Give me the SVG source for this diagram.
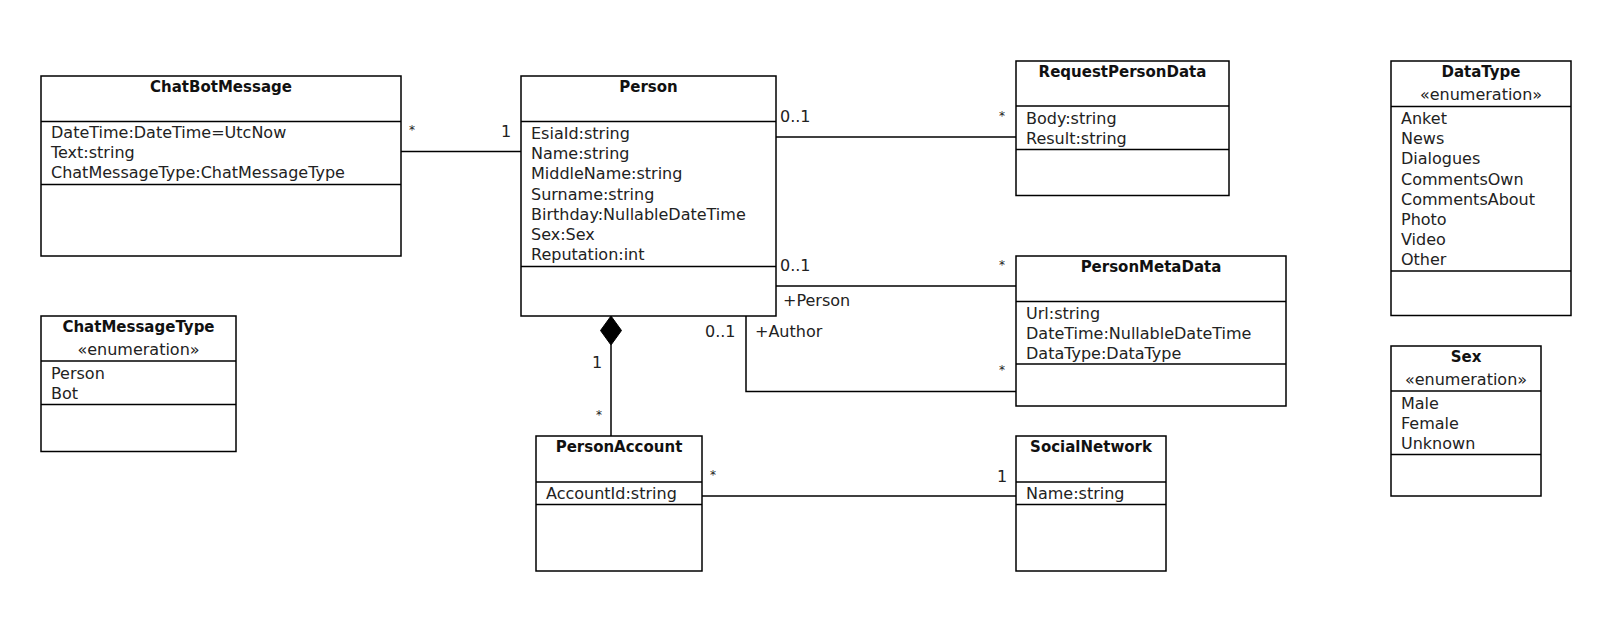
<svg xmlns="http://www.w3.org/2000/svg" width="1620" height="629" viewBox="0 0 1620 629">
<style>
.box{fill:#fff;stroke:#000;stroke-width:1.5}
.div{stroke:#000;stroke-width:1.5}
.t{font-family:"DejaVu Sans",sans-serif;font-size:15px;font-weight:bold;fill:#111;text-anchor:middle}
.s{font-family:"DejaVu Sans",sans-serif;font-size:16px;fill:#222;text-anchor:middle}
.a{font-family:"DejaVu Sans",sans-serif;font-size:16px;fill:#222}
.c{fill:none;stroke:#000;stroke-width:1.5}
.l{font-family:"DejaVu Sans",sans-serif;font-size:16px;fill:#222}
.st{font-family:"DejaVu Sans",sans-serif;font-size:12px;fill:#222}
</style>
<rect width="1620" height="629" fill="#fff"/>
<g id="connectors">
<line class="c" x1="401" y1="151.5" x2="521" y2="151.5"/>
<text class="st" x="409" y="134">*</text>
<text class="l" x="501" y="137">1</text>
<line class="c" x1="776" y1="137" x2="1016" y2="137"/>
<text class="l" x="780" y="122">0..1</text>
<text class="st" x="999" y="120">*</text>
<line class="c" x1="776" y1="286" x2="1016" y2="286"/>
<text class="l" x="780" y="271">0..1</text>
<text class="st" x="999" y="269">*</text>
<text class="l" x="783" y="306">+Person</text>
<polyline class="c" points="746,316 746,391.5 1016,391.5"/>
<text class="l" x="705" y="337">0..1</text>
<text class="l" x="755" y="337">+Author</text>
<text class="st" x="999" y="374">*</text>
<polygon points="611,316 621.5,330.5 611,345 600.5,330.5" fill="#000" stroke="#000" stroke-width="1"/>
<line class="c" x1="611" y1="345" x2="611" y2="436"/>
<text class="l" x="592" y="368">1</text>
<text class="st" x="596" y="419">*</text>
<line class="c" x1="702" y1="496" x2="1016" y2="496"/>
<text class="st" x="710" y="479">*</text>
<text class="l" x="997" y="482">1</text>
</g>
<g id="ChatBotMessage">
<rect class="box" x="41" y="76" width="360" height="180"/>
<line class="div" x1="41" y1="121.5" x2="401" y2="121.5"/>
<line class="div" x1="41" y1="184.5" x2="401" y2="184.5"/>
<text class="t" x="221" y="92">ChatBotMessage</text>
<text class="a" x="51" y="138">DateTime:DateTime=UtcNow</text>
<text class="a" x="51" y="158.2">Text:string</text>
<text class="a" x="51" y="178.4">ChatMessageType:ChatMessageType</text>
</g>
<g id="Person">
<rect class="box" x="521" y="76" width="255" height="240"/>
<line class="div" x1="521" y1="121.5" x2="776" y2="121.5"/>
<line class="div" x1="521" y1="266.5" x2="776" y2="266.5"/>
<text class="t" x="648.5" y="92">Person</text>
<text class="a" x="531" y="139">EsiaId:string</text>
<text class="a" x="531" y="159.2">Name:string</text>
<text class="a" x="531" y="179.3">MiddleName:string</text>
<text class="a" x="531" y="199.5">Surname:string</text>
<text class="a" x="531" y="219.6">Birthday:NullableDateTime</text>
<text class="a" x="531" y="239.8">Sex:Sex</text>
<text class="a" x="531" y="260">Reputation:int</text>
</g>
<g id="RequestPersonData">
<rect class="box" x="1016" y="61" width="213" height="134.5"/>
<line class="div" x1="1016" y1="106" x2="1229" y2="106"/>
<line class="div" x1="1016" y1="149.5" x2="1229" y2="149.5"/>
<text class="t" x="1122.5" y="77">RequestPersonData</text>
<text class="a" x="1026" y="123.5">Body:string</text>
<text class="a" x="1026" y="143.7">Result:string</text>
</g>
<g id="PersonMetaData">
<rect class="box" x="1016" y="256" width="270" height="150"/>
<line class="div" x1="1016" y1="301.5" x2="1286" y2="301.5"/>
<line class="div" x1="1016" y1="364" x2="1286" y2="364"/>
<text class="t" x="1151" y="272">PersonMetaData</text>
<text class="a" x="1026" y="319">Url:string</text>
<text class="a" x="1026" y="339.2">DateTime:NullableDateTime</text>
<text class="a" x="1026" y="359.4">DataType:DataType</text>
</g>
<g id="DataType">
<rect class="box" x="1391" y="61" width="180" height="254.5"/>
<line class="div" x1="1391" y1="106.5" x2="1571" y2="106.5"/>
<line class="div" x1="1391" y1="271" x2="1571" y2="271"/>
<text class="t" x="1481" y="77">DataType</text>
<text class="s" x="1481" y="100">«enumeration»</text>
<text class="a" x="1401" y="124">Anket</text>
<text class="a" x="1401" y="144.2">News</text>
<text class="a" x="1401" y="164.3">Dialogues</text>
<text class="a" x="1401" y="184.5">CommentsOwn</text>
<text class="a" x="1401" y="204.6">CommentsAbout</text>
<text class="a" x="1401" y="224.8">Photo</text>
<text class="a" x="1401" y="244.9">Video</text>
<text class="a" x="1401" y="265">Other</text>
</g>
<g id="Sex">
<rect class="box" x="1391" y="346" width="150" height="150"/>
<line class="div" x1="1391" y1="391" x2="1541" y2="391"/>
<line class="div" x1="1391" y1="454.5" x2="1541" y2="454.5"/>
<text class="t" x="1466" y="362">Sex</text>
<text class="s" x="1466" y="385">«enumeration»</text>
<text class="a" x="1401" y="409">Male</text>
<text class="a" x="1401" y="429">Female</text>
<text class="a" x="1401" y="449">Unknown</text>
</g>
<g id="ChatMessageType">
<rect class="box" x="41" y="316" width="195" height="135.5"/>
<line class="div" x1="41" y1="361" x2="236" y2="361"/>
<line class="div" x1="41" y1="404.5" x2="236" y2="404.5"/>
<text class="t" x="138.5" y="332">ChatMessageType</text>
<text class="s" x="138.5" y="355">«enumeration»</text>
<text class="a" x="51" y="379">Person</text>
<text class="a" x="51" y="399">Bot</text>
</g>
<g id="PersonAccount">
<rect class="box" x="536" y="436" width="166" height="135"/>
<line class="div" x1="536" y1="482" x2="702" y2="482"/>
<line class="div" x1="536" y1="504.5" x2="702" y2="504.5"/>
<text class="t" x="619" y="452">PersonAccount</text>
<text class="a" x="546" y="498.5">AccountId:string</text>
</g>
<g id="SocialNetwork">
<rect class="box" x="1016" y="436" width="150" height="135"/>
<line class="div" x1="1016" y1="482" x2="1166" y2="482"/>
<line class="div" x1="1016" y1="504.5" x2="1166" y2="504.5"/>
<text class="t" x="1091" y="452">SocialNetwork</text>
<text class="a" x="1026" y="498.5">Name:string</text>
</g>
</svg>
